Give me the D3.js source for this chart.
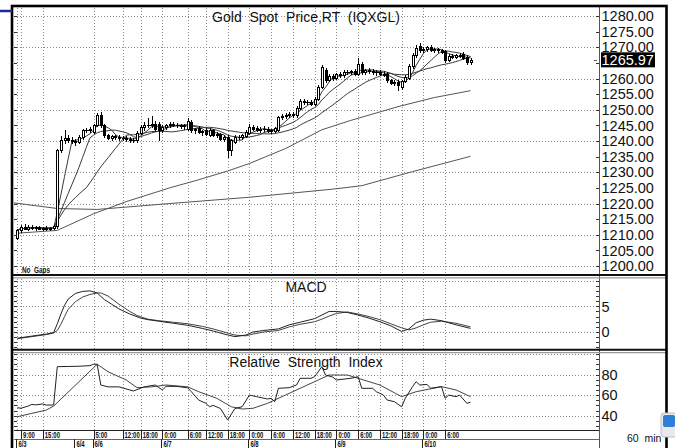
<!DOCTYPE html>
<html><head><meta charset="utf-8">
<script src="https://cdn.jsdelivr.net/npm/d3@7"></script>
<style>
body{margin:0;background:#fff}
svg{display:block}
</style>
</head><body>
<svg id="chart" width="675" height="448"></svg>
<script>
// ---------------- DATA ----------------
const opens=[1209.0,1211.5,1212.5,1212.0,1212.6,1212.2,1212.4,1212.0,1212.1,1211.9,1212.2,1212.8,1237.0,1240.2,1241.0,1240.4,1240.0,1239.6,1241.2,1243.6,1243.4,1243.0,1245.2,1248.4,1245.0,1241.8,1241.0,1241.5,1241.2,1240.9,1241.0,1240.6,1240.4,1240.2,1242.6,1244.4,1245.2,1245.0,1245.6,1245.4,1243.4,1244.6,1245.0,1245.4,1245.2,1245.0,1244.8,1244.0,1246.2,1243.4,1244.2,1242.8,1243.6,1242.0,1243.6,1242.0,1242.2,1240.8,1241.4,1237.0,1239.8,1241.4,1241.2,1241.6,1242.6,1244.4,1244.2,1243.6,1244.0,1244.0,1243.2,1243.2,1243.6,1247.6,1248.0,1248.4,1248.8,1248.2,1250.6,1252.8,1252.4,1252.6,1252.0,1253.4,1257.4,1262.8,1259.6,1260.8,1260.2,1261.4,1261.0,1262.2,1262.0,1262.4,1261.6,1264.8,1262.2,1262.6,1262.4,1262.0,1262.2,1261.6,1261.6,1259.4,1258.6,1259.0,1257.4,1259.2,1260.2,1264.0,1267.4,1270.4,1269.0,1269.4,1270.2,1269.2,1269.4,1269.0,1268.8,1266.0,1267.2,1266.8,1267.6,1267.8,1267.0,1265.4];
const highs=[1212.0,1213.0,1213.5,1213.0,1213.2,1212.8,1212.9,1212.6,1212.7,1212.5,1213.2,1237.5,1241.5,1243.5,1241.8,1241.4,1240.8,1241.8,1244.0,1244.2,1244.5,1245.6,1249.0,1249.2,1245.4,1242.2,1242.0,1242.0,1241.8,1241.6,1241.5,1241.2,1241.0,1243.2,1245.0,1246.0,1247.4,1248.0,1246.4,1246.0,1245.0,1245.4,1246.0,1246.2,1245.8,1245.6,1245.4,1247.2,1246.6,1244.2,1244.8,1243.6,1244.2,1244.2,1244.0,1242.8,1242.6,1242.0,1241.8,1240.8,1242.0,1242.0,1242.2,1243.4,1245.4,1245.2,1244.8,1244.6,1244.8,1244.6,1244.0,1244.6,1248.0,1248.6,1249.0,1249.2,1249.4,1251.2,1253.4,1253.4,1253.2,1253.0,1254.0,1257.8,1264.2,1263.4,1261.6,1261.6,1261.8,1262.0,1262.6,1262.8,1262.8,1263.0,1266.4,1265.2,1263.0,1263.2,1263.0,1262.8,1262.6,1262.4,1262.0,1260.0,1259.6,1259.6,1259.6,1261.0,1264.6,1268.2,1270.6,1271.4,1270.2,1270.4,1270.6,1269.8,1269.8,1269.6,1269.2,1267.8,1267.8,1268.0,1268.2,1268.4,1267.4,1266.6];
const lows=[1208.5,1211.0,1211.8,1211.5,1211.8,1211.6,1211.7,1211.5,1211.6,1211.4,1211.8,1212.3,1236.5,1239.5,1239.6,1239.2,1238.6,1239.2,1240.8,1242.8,1243.0,1242.4,1244.8,1244.6,1241.4,1240.6,1240.4,1240.8,1240.4,1240.2,1240.0,1239.8,1239.6,1239.8,1242.2,1243.6,1244.6,1244.4,1243.2,1240.2,1242.8,1243.8,1244.4,1244.8,1244.4,1244.2,1244.0,1243.6,1242.8,1242.6,1242.4,1242.0,1241.8,1241.6,1241.6,1241.2,1240.2,1240.0,1234.8,1235.6,1239.4,1240.6,1240.8,1241.2,1242.2,1243.6,1243.2,1243.0,1243.2,1242.8,1242.6,1242.8,1243.2,1247.0,1247.4,1247.8,1247.6,1247.8,1250.2,1252.0,1251.8,1251.6,1251.6,1253.0,1257.0,1259.0,1259.2,1259.6,1259.8,1260.6,1260.6,1261.6,1261.4,1261.0,1261.2,1261.6,1261.4,1261.8,1261.6,1261.2,1261.0,1260.8,1259.0,1258.2,1257.8,1256.4,1256.8,1258.8,1259.8,1263.4,1266.8,1268.6,1268.4,1268.8,1268.8,1268.6,1268.4,1268.2,1265.4,1265.6,1266.4,1266.4,1266.8,1266.2,1264.8,1264.8];
const closes=[1211.5,1212.5,1212.0,1212.6,1212.2,1212.4,1212.0,1212.1,1211.9,1212.2,1212.8,1237.0,1240.2,1241.0,1240.4,1240.0,1239.6,1241.2,1243.6,1243.4,1243.8,1245.2,1248.2,1245.0,1241.8,1241.0,1241.5,1241.2,1240.9,1241.0,1240.6,1240.4,1240.2,1242.6,1244.4,1245.2,1245.0,1245.6,1244.0,1243.4,1244.6,1245.0,1245.4,1245.2,1245.0,1244.8,1245.0,1246.4,1243.4,1243.8,1242.8,1243.2,1242.2,1243.6,1242.0,1242.2,1240.8,1241.4,1237.0,1240.2,1241.4,1241.2,1241.8,1242.8,1244.4,1244.0,1243.6,1244.0,1243.8,1243.2,1243.4,1244.2,1247.6,1248.0,1248.4,1248.6,1248.2,1250.6,1252.8,1252.4,1252.6,1252.0,1253.4,1257.2,1263.6,1259.6,1260.8,1260.2,1261.4,1261.0,1262.2,1262.0,1262.4,1261.6,1264.8,1262.2,1262.6,1262.4,1262.0,1262.2,1261.6,1261.2,1259.4,1258.6,1259.0,1257.8,1259.2,1260.4,1264.0,1267.6,1269.8,1269.0,1269.6,1270.0,1269.2,1269.4,1269.0,1268.6,1265.8,1267.2,1267.0,1267.6,1267.2,1266.6,1265.4,1265.97];
const lastPrice=1265.97;
const fastPeriods=[5,10,20];
// slower averages as [bar, value]
const maSlowA=[[0,1210.5],[11,1211.4],[21,1216.7],[30,1220.6],[42,1225.0],[50,1227.6],[58,1230.4],[64,1232.8],[74,1237.6],[84,1243.6],[92,1246.6],[105,1251.0],[115,1253.9],[125,1256.1]];
const maSlowB=[[-1,1220.2],[5,1219.3],[11,1218.4],[22,1218.1],[40,1219.8],[64,1222.0],[87,1224.6],[95,1225.7],[109,1230.2],[125,1235.1]];
const macdLine=[[0,-1.2],[4,-0.8],[8,-0.4],[10,-0.1],[11,1.6],[12,3.5],[13,5.2],[14,6.4],[16,7.5],[18,7.9],[20,8.0],[22,7.6],[24,6.3],[26,5.4],[28,4.5],[31,3.5],[34,2.7],[36,2.4],[39,2.1],[43,1.7],[47,1.3],[51,0.7],[54,0.2],[57,-0.4],[60,-0.9],[63,-0.6],[65,0.0],[68,0.3],[72,0.6],[75,1.4],[78,1.9],[82,2.6],[84,3.3],[86,4.0],[88,4.0],[91,3.8],[94,3.3],[97,2.7],[100,2.0],[103,1.2],[106,0.1],[108,0.6],[110,1.8],[112,2.3],[114,2.5],[117,2.2],[121,1.4],[125,0.7]];
const macdSignal=[[0,-1.3],[4,-0.9],[8,-0.5],[10,-0.2],[11,0.3],[12,1.5],[13,3.0],[14,4.4],[16,5.9],[18,6.8],[20,7.3],[22,7.6],[23,7.6],[25,7.0],[28,5.4],[31,4.0],[33,3.2],[36,2.5],[39,2.2],[43,1.9],[47,1.6],[51,1.1],[54,0.6],[57,0.0],[60,-0.6],[63,-0.75],[65,-0.4],[68,0.0],[72,0.3],[75,1.0],[78,1.5],[82,2.0],[84,2.5],[86,3.1],[88,3.6],[91,3.9],[94,3.5],[97,3.0],[100,2.4],[103,1.6],[106,0.8],[108,0.4],[110,0.8],[112,1.4],[114,1.9],[117,2.1],[121,1.7],[125,1.0]];
const rsiLine=[[0,47.8],[1,47.2],[3,49.4],[4,51.0],[5,50.5],[7,51.4],[8,50.3],[10,50.4],[11,87.6],[14,87.8],[17,88.0],[20,88.6],[21,89.9],[22,89.9],[23,69.8],[25,68.0],[28,68.0],[32,64.0],[35,68.0],[38,69.8],[40,65.0],[41,68.5],[44,68.5],[47,67.0],[48,63.3],[50,55.2],[52,52.0],[53,48.7],[54,50.0],[56,47.0],[58,35.8],[60,47.0],[62,48.7],[64,60.0],[66,58.5],[69,56.2],[70,56.9],[71,53.6],[72,66.6],[75,67.2],[77,69.8],[78,76.3],[81,76.3],[82,77.9],[84,87.6],[85,79.5],[87,77.5],[88,74.7],[92,76.3],[94,77.9],[95,66.6],[98,66.6],[99,63.3],[101,60.0],[102,55.2],[104,53.6],[106,48.7],[107,56.9],[109,68.2],[110,73.0],[111,69.8],[113,70.4],[114,66.6],[117,68.2],[118,56.9],[119,60.0],[121,58.5],[122,60.0],[124,52.0],[125,53.0]];
const rsiAvg=[[0,39.0],[4,42.3],[8,45.5],[10,49.4],[22,89.9],[25,82.7],[30,74.7],[33,67.2],[37,68.0],[41,69.8],[47,68.0],[50,63.3],[55,56.9],[59,48.7],[62,46.5],[65,47.2],[69,52.0],[73,58.5],[78,66.6],[83,74.7],[86,79.5],[91,79.5],[94,76.3],[100,69.8],[106,58.5],[110,63.3],[117,68.2],[121,65.0],[125,58.5]];
const priceTicks=[1200,1205,1210,1215,1220,1225,1230,1235,1240,1245,1250,1255,1260,1265,1270,1275,1280];
const priceGrid=[1200,1210,1220,1230,1240,1250,1260,1270,1280];
const macdTicks=[0,5];
const macdGrid=[0,5,10];
const rsiTicks=[40,60,80];
const rsiGrid=[40,60,80,100];
const timeTicks=[[1,"9:00"],[7,"15:00"],[21,"5:00"],[29,"12:00"],[34,"18:00"],[40,"0:00"],[47,"6:00"],[52,"12:00"],[58,"18:00"],[64,"0:00"],[70,"6:00"],[76,"12:00"],[82,"18:00"],[88,"0:00"],[94,"6:00"],[100,"12:00"],[106,"18:00"],[112,"0:00"],[118,"6:00"]];
const dateTicks=[[0,"6/3"],[16,"6/4"],[21,"6/6"],[40,"6/7"],[64,"6/8"],[88,"6/9"],[112,"6/10"]];
const titles={main:"Gold  Spot  Price,RT  (IQXGL)",macd:"MACD",rsi:"Relative  Strength  Index"};
const intervalLabel="60  min";
const gapsLabel="No  Gaps";

// ---------------- DRAWING ----------------
const FONT='"Liberation Sans", Arial, sans-serif';
const svg=d3.select("#chart");
const plot={l:14,r:599};
const panes={main:{t:8,b:274},macd:{t:279,b:349},rsi:{t:354,b:430}};

const x=d3.scaleLinear().domain([-0.94,160.44]).range([plot.l,plot.r]);
const yP=d3.scaleLinear().domain([1200,1280]).range([266,16]);
const yM=d3.scaleLinear().domain([0,5]).range([332,306.3]);
const yR=d3.scaleLinear().domain([40,80]).range([415.7,374.5]);

svg.append("rect").attr("width",675).attr("height",448).attr("fill","#fff");
const defs=svg.append("defs");
Object.entries(panes).forEach(([k,p])=>{
  defs.append("clipPath").attr("id","clip-"+k).append("rect")
    .attr("x",plot.l).attr("y",p.t).attr("width",plot.r-plot.l).attr("height",p.b-p.t);
});
const px=v=>Math.round(v)+0.5;

// gridlines
function hGrid(vals,scale,pane){
  const g=svg.append("g").attr("clip-path","url(#clip-"+pane+")");
  g.selectAll("line").data(vals).join("line")
    .attr("x1",plot.l).attr("x2",plot.r)
    .attr("y1",d=>px(scale(d))).attr("y2",d=>px(scale(d)))
    .attr("stroke","#8c8c8c").attr("stroke-dasharray","1,2");
}
function vGrid(pane){
  const p=panes[pane];
  const idx=[0].concat(timeTicks.map(d=>d[0]));
  svg.append("g").selectAll("line").data(idx).join("line")
    .attr("x1",d=>px(x(d))).attr("x2",d=>px(x(d)))
    .attr("y1",p.t).attr("y2",p.b)
    .attr("stroke","#8c8c8c").attr("stroke-dasharray","1,2");
}
hGrid(priceGrid,yP,"main"); vGrid("main");
hGrid(macdGrid,yM,"macd"); vGrid("macd");
hGrid(rsiGrid,yR,"rsi"); vGrid("rsi");

// moving averages
const priceLine=d3.line().x(d=>x(d[0])).y(d=>yP(d[1]));
const gMain=svg.append("g").attr("clip-path","url(#clip-main)");
[maSlowB,maSlowA].forEach(s=>{
  gMain.append("path").attr("d",priceLine(s)).attr("fill","none").attr("stroke","#555").attr("stroke-width",1);
});
fastPeriods.forEach(n=>{
  const s=closes.map((c,i)=>[i,d3.mean(closes.slice(Math.max(0,i-n+1),i+1))]);
  gMain.append("path").attr("d",priceLine(s)).attr("fill","none").attr("stroke","#3a3a3a").attr("stroke-width",1);
});

// candles
const bars=closes.map((c,i)=>({i,o:opens[i],h:highs[i],l:lows[i],c}));
const gC=gMain.append("g").attr("shape-rendering","crispEdges");
bars.forEach(b=>{
  const cx=px(x(b.i));
  gC.append("line").attr("x1",cx).attr("x2",cx).attr("y1",Math.round(yP(b.h))).attr("y2",Math.round(yP(b.l))+1).attr("stroke","#000");
  const top=px(yP(Math.max(b.o,b.c))), bot=px(yP(Math.min(b.o,b.c)));
  if(bot-top<1){
    gC.append("line").attr("x1",cx-2).attr("x2",cx+2).attr("y1",top).attr("y2",top).attr("stroke","#000");
  }else{
    gC.append("rect").attr("x",cx-1).attr("y",top).attr("width",2).attr("height",bot-top)
      .attr("fill",b.c>=b.o?"#fff":"#000").attr("stroke","#000");
  }
});

// MACD
const mLine=d3.line().x(d=>x(d[0])).y(d=>yM(d[1]));
const gM=svg.append("g").attr("clip-path","url(#clip-macd)");
gM.append("path").attr("d",mLine(macdSignal)).attr("fill","none").attr("stroke","#444");
gM.append("path").attr("d",mLine(macdLine)).attr("fill","none").attr("stroke","#222");

// RSI
const rLine=d3.line().x(d=>x(d[0])).y(d=>yR(d[1]));
const gR=svg.append("g").attr("clip-path","url(#clip-rsi)");
gR.append("path").attr("d",rLine(rsiAvg)).attr("fill","none").attr("stroke","#444");
gR.append("path").attr("d",rLine(rsiLine)).attr("fill","none").attr("stroke","#222");

// titles
function title(txt,base){
  svg.append("text").attr("x",306).attr("y",base).attr("text-anchor","middle")
    .attr("xml:space","preserve").style("white-space","pre")
    .attr("font-family",FONT).attr("font-size",14).attr("fill","#111").text(txt);
}
title(titles.main,21.5);
title(titles.macd,291.5);
title(titles.rsi,366.5);

// small condensed bold label (horizontally compressed like the terminal's pixel font)
function smallLabel(parent,tx,ty,txt,sx){
  parent.append("text").attr("transform",`translate(${tx},${ty}) scale(${sx},1)`)
    .attr("xml:space","preserve").style("white-space","pre")
    .attr("font-family",FONT).attr("font-weight","bold").attr("font-size",8.5)
    .attr("fill","#111").text(txt);
}
smallLabel(svg,22,273,gapsLabel,0.75);

// axis ticks on pane edges
function edgeTicks(vals,scale){
  const g=svg.append("g").attr("shape-rendering","crispEdges");
  g.selectAll(".l").data(vals).join("line").attr("x1",plot.l).attr("x2",plot.l+3)
    .attr("y1",d=>px(scale(d))).attr("y2",d=>px(scale(d))).attr("stroke","#333");
  g.selectAll(".r").data(vals).join("line").attr("x1",plot.r-3).attr("x2",plot.r)
    .attr("y1",d=>px(scale(d))).attr("y2",d=>px(scale(d))).attr("stroke","#333");
}
edgeTicks(priceTicks,yP);
edgeTicks(d3.range(-3,11),yM);
edgeTicks(d3.range(30,101,5),yR);

// right axis labels (labels hidden by the last-price box are skipped)
function axisLabels(vals,scale,fmt){
  svg.append("g").selectAll("text").data(vals).join("text")
    .attr("x",601.5).attr("y",d=>scale(d)+5.2)
    .attr("font-family",FONT).attr("font-size",14.5).attr("fill","#111").text(fmt);
}
axisLabels(priceTicks.filter(v=>Math.abs(yP(v)-yP(lastPrice))>12),yP,d=>d.toFixed(2));
axisLabels(macdTicks,yM,d=>d);
axisLabels(rsiTicks,yR,d=>d);
// last price box
svg.append("rect").attr("x",601).attr("y",yP(lastPrice)-7.5).attr("width",54).attr("height",15).attr("fill","#000");
svg.append("text").attr("x",601.5).attr("y",yP(lastPrice)+5.2).attr("font-family",FONT).attr("font-size",14.5)
  .attr("fill","#fff").text(lastPrice.toFixed(2));
svg.append("line").attr("x1",594).attr("x2",597).attr("y1",px(yP(lastPrice))).attr("y2",px(yP(lastPrice))).attr("stroke","#555");

// time axis
const gT=svg.append("g").attr("shape-rendering","crispEdges");
gT.append("line").attr("x1",plot.l).attr("x2",plot.r).attr("y1",430.5).attr("y2",430.5).attr("stroke","#222");
gT.append("line").attr("x1",plot.l).attr("x2",plot.r).attr("y1",439.5).attr("y2",439.5).attr("stroke","#666");
gT.selectAll(".tt").data(timeTicks).join("line").attr("x1",d=>px(x(d[0]))).attr("x2",d=>px(x(d[0])))
  .attr("y1",430).attr("y2",439).attr("stroke","#222");
gT.selectAll(".dt").data(dateTicks).join("line").attr("x1",d=>px(x(d[0]))-1).attr("x2",d=>px(x(d[0]))-1)
  .attr("y1",439).attr("y2",448).attr("stroke","#222");
const gTL=svg.append("g");
timeTicks.forEach(d=>smallLabel(gTL,x(d[0])+2,438,d[1],0.7));
dateTicks.forEach(d=>smallLabel(gTL,x(d[0])+1,447,d[1],0.7));
svg.append("text").attr("x",627).attr("y",441.5).attr("xml:space","preserve").style("white-space","pre")
  .attr("font-family",FONT).attr("font-size",10.5).attr("fill","#111").text(intervalLabel);

// frame & separators
const gF=svg.append("g");
gF.append("line").attr("x1",599.5).attr("x2",599.5).attr("y1",7).attr("y2",448).attr("stroke","#555");
gF.append("line").attr("x1",12).attr("x2",666).attr("y1",275).attr("y2",275).attr("stroke","#111").attr("stroke-width",2);
gF.append("line").attr("x1",12).attr("x2",666).attr("y1",277.8).attr("y2",277.8).attr("stroke","#999").attr("stroke-width",1.3);
gF.append("line").attr("x1",12).attr("x2",666).attr("y1",349.8).attr("y2",349.8).attr("stroke","#111").attr("stroke-width",2);
gF.append("line").attr("x1",12).attr("x2",666).attr("y1",352.6).attr("y2",352.6).attr("stroke","#999").attr("stroke-width",1.3);
gF.append("rect").attr("x",12).attr("y",6).attr("width",654.5).attr("height",460)
  .attr("fill","none").attr("stroke","#000").attr("stroke-width",2.6);
// decorations
gF.append("line").attr("x1",0).attr("x2",12).attr("y1",11).attr("y2",11).attr("stroke","#1b2a9c").attr("stroke-width",2.5);
gF.append("rect").attr("x",661).attr("y",413).attr("width",16).attr("height",24).attr("rx",3).attr("fill","#e6e9ee").attr("stroke","#b8c0cc");
gF.append("rect").attr("x",663).attr("y",415).attr("width",12).attr("height",12).attr("rx",2).attr("fill","#2f7fd8");
</script>
</body></html>
